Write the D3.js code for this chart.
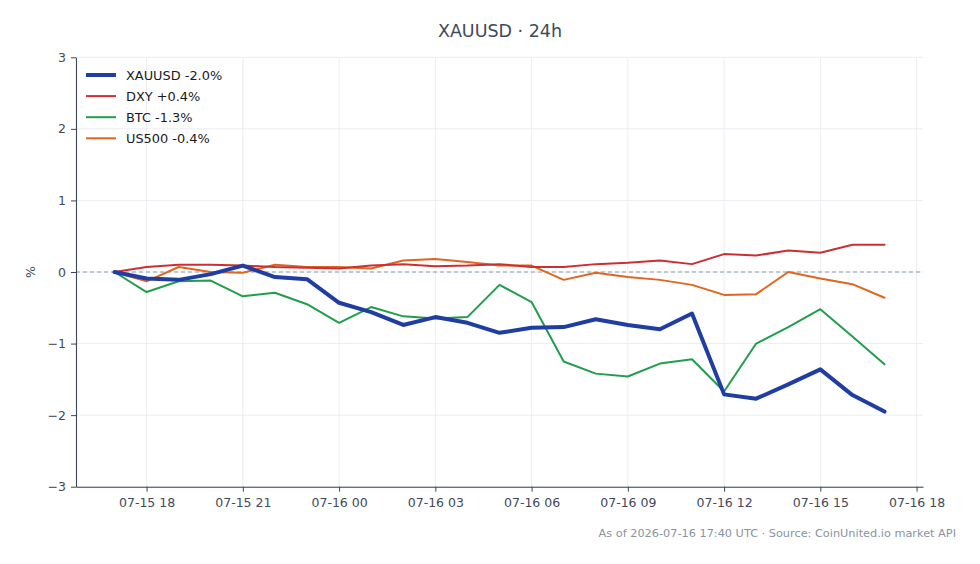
<!DOCTYPE html>
<html>
<head>
<meta charset="utf-8">
<script src="https://cdn.jsdelivr.net/npm/d3@7"></script>
<style>
  body { margin: 0; background: #fff; }
  svg { display: block; font-family: "DejaVu Sans", sans-serif; }
</style>
</head>
<body>
<div id="chart"></div>
<script>
// hourly samples, 07-15 17:00 -> 07-16 17:00 UTC
const times = d3.utcHour.range(new Date(Date.UTC(2026, 6, 15, 17)), new Date(Date.UTC(2026, 6, 16, 18)));

// % change from the first sample
const xauusd = [0, -0.09, -0.11, -0.03, 0.09, -0.07, -0.10, -0.43, -0.56, -0.74, -0.63, -0.71, -0.85,
  -0.78, -0.77, -0.66, -0.74, -0.80, -0.58, -1.71, -1.77, -1.57, -1.36, -1.72, -1.95];
const dxy = [0, 0.07, 0.10, 0.10, 0.09, 0.07, 0.06, 0.05, 0.09, 0.11, 0.08, 0.09, 0.11,
  0.07, 0.07, 0.11, 0.13, 0.16, 0.11, 0.25, 0.23, 0.30, 0.27, 0.38, 0.38];
const btc = [0, -0.28, -0.13, -0.12, -0.34, -0.29, -0.45, -0.71, -0.49, -0.62, -0.65, -0.63, -0.18,
  -0.42, -1.25, -1.42, -1.46, -1.28, -1.22, -1.67, -1.00, -0.77, -0.52, -0.90, -1.29];
const us500 = [0, -0.13, 0.07, 0.00, -0.01, 0.10, 0.07, 0.07, 0.05, 0.16, 0.18, 0.14, 0.09,
  0.09, -0.11, -0.01, -0.07, -0.11, -0.18, -0.32, -0.31, 0.00, -0.09, -0.17, -0.36];

const seriesNames = ["XAUUSD -2.0%", "DXY +0.4%", "BTC -1.3%", "US500 -0.4%"];
const seriesValues = [xauusd, dxy, btc, us500];
const seriesColors = ["#1f3da3", "#cc2f33", "#1f9e4c", "#e0651f"];
const seriesWidths = [4, 2, 2, 2];

const yTicks = [-3, -2, -1, 0, 1, 2, 3];

const width = 980;
const height = 564;
const marginTop = 57.3;
const marginRight = 57;
const marginBottom = 77.3;
const marginLeft = 76;

const x = d3.scaleUtc()
    .domain([new Date(Date.UTC(2026, 6, 15, 15, 48)), new Date(Date.UTC(2026, 6, 16, 18, 12))])
    .range([marginLeft, width - marginRight]);

const y = d3.scaleLinear()
    .domain([-3, 3])
    .range([height - marginBottom, marginTop]);

const svg = d3.create("svg")
    .attr("width", width)
    .attr("height", height);

const xTicks = d3.utcHour.every(3).range(x.domain()[0], x.domain()[1]);

// grid
svg.append("g")
  .selectAll("line")
  .data(xTicks)
  .join("line")
    .attr("x1", d => x(d)).attr("x2", d => x(d))
    .attr("y1", marginTop).attr("y2", height - marginBottom)
    .attr("stroke", "#e6e9ee").attr("stroke-width", 0.8);

svg.append("g")
  .selectAll("line")
  .data(yTicks)
  .join("line")
    .attr("x1", marginLeft).attr("x2", width - marginRight)
    .attr("y1", d => y(d)).attr("y2", d => y(d))
    .attr("stroke", "#e6e9ee").attr("stroke-width", 0.8);

// zero line
svg.append("line")
    .attr("x1", marginLeft).attr("x2", width - marginRight)
    .attr("y1", y(0)).attr("y2", y(0))
    .attr("stroke", "#8a9bb0").attr("stroke-width", 1)
    .attr("stroke-dasharray", "4,3");

// x-axis
const gx = svg.append("g")
    .attr("transform", `translate(0,${height - marginBottom})`)
    .call(d3.axisBottom(x).tickValues(xTicks).tickFormat(d3.utcFormat("%m-%d %H")).tickSize(5).tickPadding(6).tickSizeOuter(0));

// y-axis
const gy = svg.append("g")
    .attr("transform", `translate(${marginLeft},0)`)
    .call(d3.axisLeft(y).tickValues(yTicks).tickFormat(d => d < 0 ? "\u2212" + Math.abs(d) : d).tickSize(5).tickPadding(5).tickSizeOuter(0));

[gx, gy].forEach(g => {
  g.select(".domain").attr("stroke", "#3b4656").attr("stroke-width", 1.1);
  g.selectAll(".tick line").attr("stroke", "#3b4656").attr("stroke-width", 1);
  g.selectAll(".tick text").attr("fill", "#3f4a5a").style("font-size", "12.5px").style("font-family", "DejaVu Sans");
});

// lines
const line = d3.line()
    .x((d, i) => x(times[i]))
    .y(d => y(d));

svg.append("g")
  .selectAll("path")
  .data(seriesValues.slice().reverse())
  .join("path")
    .attr("fill", "none")
    .attr("stroke", (d, i) => seriesColors[seriesValues.length - 1 - i])
    .attr("stroke-width", (d, i) => seriesWidths[seriesValues.length - 1 - i])
    .attr("stroke-linejoin", "round")
    .attr("stroke-linecap", "round")
    .attr("d", line);

// legend
const legend = svg.append("g")
    .attr("transform", `translate(86,75)`);

const rows = legend.selectAll("g")
  .data(seriesNames)
  .join("g")
    .attr("transform", (d, i) => `translate(0,${i * 21.1})`);

rows.append("line")
    .attr("x1", 0).attr("x2", 30)
    .attr("stroke", (d, i) => seriesColors[i])
    .attr("stroke-width", (d, i) => seriesWidths[i]);

rows.append("text")
    .attr("x", 40).attr("dy", "0.35em")
    .attr("fill", "#1a1a1a")
    .style("font-size", "12.9px")
    .text(d => d);

// title
svg.append("text")
    .attr("x", 500).attr("y", 37)
    .attr("text-anchor", "middle")
    .attr("fill", "#3f4a5a")
    .style("font-size", "17.5px")
    .text("XAUUSD \u00b7 24h");

// y label
svg.append("text")
    .attr("transform", `translate(35,${y(0)}) rotate(-90)`)
    .attr("text-anchor", "middle")
    .attr("fill", "#3f4a5a")
    .style("font-size", "12.5px")
    .text("%");

// footer
svg.append("text")
    .attr("x", 956).attr("y", 537)
    .attr("text-anchor", "end")
    .attr("fill", "#8a93a0")
    .style("font-size", "11.3px")
    .text("As of 2026-07-16 17:40 UTC \u00b7 Source: CoinUnited.io market API");

document.getElementById("chart").append(svg.node());
</script>
</body>
</html>
